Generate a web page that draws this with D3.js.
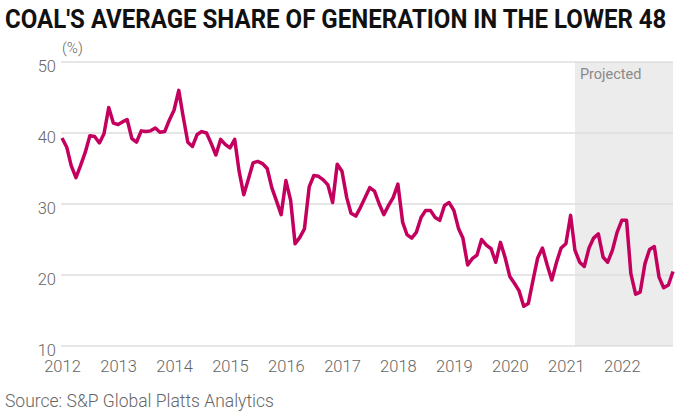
<!DOCTYPE html>
<html>
<head>
<meta charset="utf-8">
<script src="https://cdn.jsdelivr.net/npm/d3@7"></script>
<style>
  body { margin: 0; background: #fff; }
  text { font-family: Roboto, "Noto Sans", sans-serif; }
</style>
</head>
<body>
<svg id="chart" width="691" height="416"></svg>
<script>
// monthly coal share (%), Jan 2012 - Feb 2021
const historical = [
  39.3, 38.0, 35.4, 33.7, 35.4, 37.3, 39.6, 39.5, 38.6, 39.9, 43.6, 41.4,
  41.2, 41.6, 41.9, 39.2, 38.7, 40.3, 40.2, 40.3, 40.7, 40.1, 40.2, 41.8,
  43.2, 46.0, 42.4, 38.7, 38.1, 39.8, 40.2, 40.0, 38.5, 36.9, 39.1, 38.4,
  37.9, 39.1, 34.7, 31.3, 33.5, 35.8, 36.0, 35.7, 35.0, 32.3, 30.4, 28.5,
  33.3, 30.5, 24.4, 25.3, 26.5, 32.4, 34.0, 33.9, 33.4, 32.7, 30.2, 35.6,
  34.6, 30.9, 28.7, 28.3, 29.5, 30.9, 32.3, 31.8, 30.0, 28.5, 29.8, 30.9,
  32.8, 27.4, 25.7, 25.2, 26.0, 28.1, 29.1, 29.1, 28.1, 27.7, 29.8, 30.2,
  29.1, 26.5, 25.2, 21.4, 22.3, 22.8, 25.0, 24.2, 23.7, 21.8, 24.6, 22.5,
  19.8, 18.8, 17.8, 15.6, 16.0, 19.3, 22.4, 23.8, 21.4, 19.3, 21.8, 23.8,
  24.4, 28.4
];
// Mar 2021 - Dec 2022
const projected = [
  23.5, 21.8, 21.2, 23.8, 25.2, 25.8, 22.5, 21.8, 23.5, 26.0,
  27.7, 27.7, 20.2, 17.3, 17.6, 21.6, 23.6, 24.0, 19.7, 18.2, 18.6, 20.5
];
const startMonth = new Date(2012, 0, 1);
const projectedFrom = new Date(2021, 2, 1);
const yearTicks = [2012, 2013, 2014, 2015, 2016, 2017, 2018, 2019, 2020, 2021, 2022];
const yTicks = [10, 20, 30, 40, 50];

const svg = d3.select("#chart");
const margin = { top: 62, right: 18, bottom: 70, left: 62 };
const width = +svg.attr("width");
const height = +svg.attr("height");

const data = historical.concat(projected).map((v, i) => ({
  date: d3.timeMonth.offset(startMonth, i),
  value: v
}));

const x = d3.scaleTime()
  .domain(d3.extent(data, d => d.date))
  .range([margin.left, width - margin.right]);

const y = d3.scaleLinear()
  .domain([10, 50])
  .range([height - margin.bottom, margin.top]);

// projected band
svg.append("rect")
  .attr("x", x(projectedFrom))
  .attr("y", y(50))
  .attr("width", x.range()[1] - x(projectedFrom))
  .attr("height", y(10) - y(50))
  .attr("fill", "#ececec");

svg.append("text")
  .attr("x", x(projectedFrom) + 5)
  .attr("y", y(50) + 17)
  .attr("fill", "#8a8a8a")
  .attr("font-size", 14.5)
  .text("Projected");

// gridlines
svg.append("g")
  .selectAll("line")
  .data(yTicks)
  .join("line")
  .attr("x1", margin.left - 1)
  .attr("x2", x.range()[1])
  .attr("y1", d => y(d))
  .attr("y2", d => y(d))
  .attr("stroke", "#dedede")
  .attr("stroke-width", 1.5);

// y axis labels
const yAxis = svg.append("g")
  .attr("transform", `translate(${margin.left - 6},0)`)
  .call(d3.axisLeft(y).tickValues(yTicks).tickSize(0).tickPadding(0));
yAxis.select(".domain").remove();
yAxis.selectAll("text")
  .attr("fill", "#666")
  .attr("font-size", 16.5)
  .attr("font-family", "Roboto")
  .attr("font-weight", 300)
  .attr("dy", "0.55em");

// x axis labels
const xAxis = svg.append("g")
  .attr("transform", `translate(0,${y(10)})`)
  .call(d3.axisBottom(x)
    .tickValues(yearTicks.map(yr => new Date(yr, 0, 1)))
    .tickFormat(d3.timeFormat("%Y"))
    .tickSize(0)
    .tickPadding(14));
xAxis.select(".domain").remove();
xAxis.selectAll("text")
  .attr("fill", "#666")
  .attr("font-size", 16.5)
  .attr("font-family", "Roboto")
  .attr("font-weight", 300);

// line
const line = d3.line()
  .x(d => x(d.date))
  .y(d => y(d.value));

svg.append("path")
  .datum(data)
  .attr("d", line)
  .attr("fill", "none")
  .attr("stroke", "#c4005f")
  .attr("stroke-width", 3.5)
  .attr("stroke-linejoin", "round");

// title: squeeze horizontally to the reference width
const title = svg.append("text")
  .attr("font-family", "'Liberation Sans Narrow', 'DejaVu Sans Condensed', sans-serif")
  .attr("font-weight", 700)
  .attr("font-size", 25)
  .attr("fill", "#111")
  .text("COAL'S AVERAGE SHARE OF GENERATION IN THE LOWER 48");
const titleW = title.node().getComputedTextLength();
title.attr("transform", `translate(5,28) scale(${662 / titleW},1)`);

svg.append("text")
  .attr("x", 62)
  .attr("y", 53)
  .attr("fill", "#666")
  .attr("font-size", 15)
  .attr("font-weight", 300)
  .text("(%)");

svg.append("text")
  .attr("x", 5)
  .attr("y", 407)
  .attr("fill", "#666")
  .attr("font-size", 17.5)
  .attr("font-weight", 300)
  .text("Source: S&P Global Platts Analytics");
</script>
</body>
</html>
